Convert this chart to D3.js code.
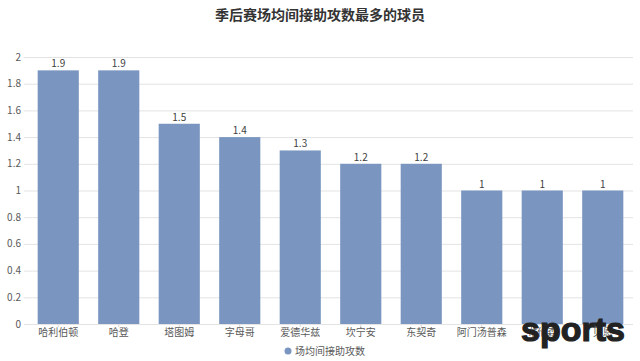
<!DOCTYPE html>
<html>
<head>
<meta charset="utf-8">
<script src="https://cdn.jsdelivr.net/npm/d3@7"></script>
<style>
  body { margin: 0; background: #fff; }
  text { font-family: "Noto Sans CJK SC", "Noto Sans", sans-serif; }
</style>
</head>
<body>
<svg></svg>
<script>
var players = ['哈利伯顿', '哈登', '塔图姆', '字母哥', '爱德华兹', '坎宁安', '东契奇', '阿门汤普森', '布伦森', '贝恩'];
var values = [1.9, 1.9, 1.5, 1.4, 1.3, 1.2, 1.2, 1, 1, 1];
var yTicks = [0, 0.2, 0.4, 0.6, 0.8, 1, 1.2, 1.4, 1.6, 1.8, 2];
var seriesName = '场均间接助攻数';
var title = '季后赛场均间接助攻数最多的球员';

var width = 640, height = 361;
var margin = {top: 57, right: 7, bottom: 37, left: 28};
var barColor = '#7a96c0';

var svg = d3.select('svg')
            .attr('width', width)
            .attr('height', height);

var xScale = d3.scaleBand()
               .domain(players)
               .range([margin.left, width - margin.right])
               .paddingInner(0.32)
               .paddingOuter(0.16);

var yScale = d3.scaleLinear()
               .domain([0, 2])
               .range([height - margin.bottom, margin.top]);

// grid lines
svg.append('g')
    .selectAll('line')
    .data(yTicks)
    .enter()
    .append('line')
      .attr('x1', margin.left - 4)
      .attr('x2', width - margin.right)
      .attr('y1', d => yScale(d) + 0.5)
      .attr('y2', d => yScale(d) + 0.5)
      .attr('stroke', '#e3e3e3')
      .attr('stroke-width', 1);

// y labels
svg.append('g')
    .selectAll('text')
    .data(yTicks)
    .enter()
    .append('text')
      .attr('x', margin.left - 7)
      .attr('y', d => yScale(d))
      .attr('dy', '0.35em')
      .attr('text-anchor', 'end')
      .attr('fill', '#595959')
      .style('font-size', '10px')
      .text(d => d);

// bars
svg.append('g')
    .selectAll('rect')
    .data(values)
    .enter()
    .append('rect')
      .attr('x', (d, i) => xScale(players[i]))
      .attr('y', d => yScale(d))
      .attr('width', xScale.bandwidth())
      .attr('height', d => yScale(0) - yScale(d))
      .attr('fill', barColor);

// value labels
svg.append('g')
    .selectAll('text')
    .data(values)
    .enter()
    .append('text')
      .attr('x', (d, i) => xScale(players[i]) + xScale.bandwidth() / 2)
      .attr('y', d => yScale(d) - 3)
      .attr('text-anchor', 'middle')
      .attr('fill', '#404040')
      .style('font-size', '10px')
      .text(d => d);

// x labels + ticks
var xg = svg.append('g');
xg.selectAll('line')
    .data(players)
    .enter()
    .append('line')
      .attr('x1', d => xScale(d) + xScale.bandwidth() / 2)
      .attr('x2', d => xScale(d) + xScale.bandwidth() / 2)
      .attr('y1', yScale(0))
      .attr('y2', yScale(0) + 3)
      .attr('stroke', '#d9d9d9');
xg.selectAll('text')
    .data(players)
    .enter()
    .append('text')
      .attr('x', d => xScale(d) + xScale.bandwidth() / 2)
      .attr('y', yScale(0) + 12)
      .attr('text-anchor', 'middle')
      .attr('fill', '#595959')
      .style('font-size', '10px')
      .text(d => d);

// title
svg.append('text')
    .attr('x', width / 2)
    .attr('y', 20)
    .attr('text-anchor', 'middle')
    .attr('fill', '#333')
    .style('font-size', '14px')
    .style('font-weight', 'bold')
    .text(title);

// legend
svg.append('circle')
    .attr('cx', 288)
    .attr('cy', 351)
    .attr('r', 3.5)
    .attr('fill', barColor);
svg.append('text')
    .attr('x', 295)
    .attr('y', 351)
    .attr('dy', '0.35em')
    .attr('fill', '#595959')
    .style('font-size', '10px')
    .text(seriesName);

// watermark
svg.append('text')
    .attr('x', 521)
    .attr('y', 341)
    .attr('fill', '#222')
    .attr('stroke', '#222')
    .attr('stroke-width', 1.2)
    .style('font-family', '"Liberation Sans", Arial, sans-serif')
    .style('font-size', '34px')
    .style('font-weight', 'bold')
    .text('sports');
</script>
</body>
</html>
